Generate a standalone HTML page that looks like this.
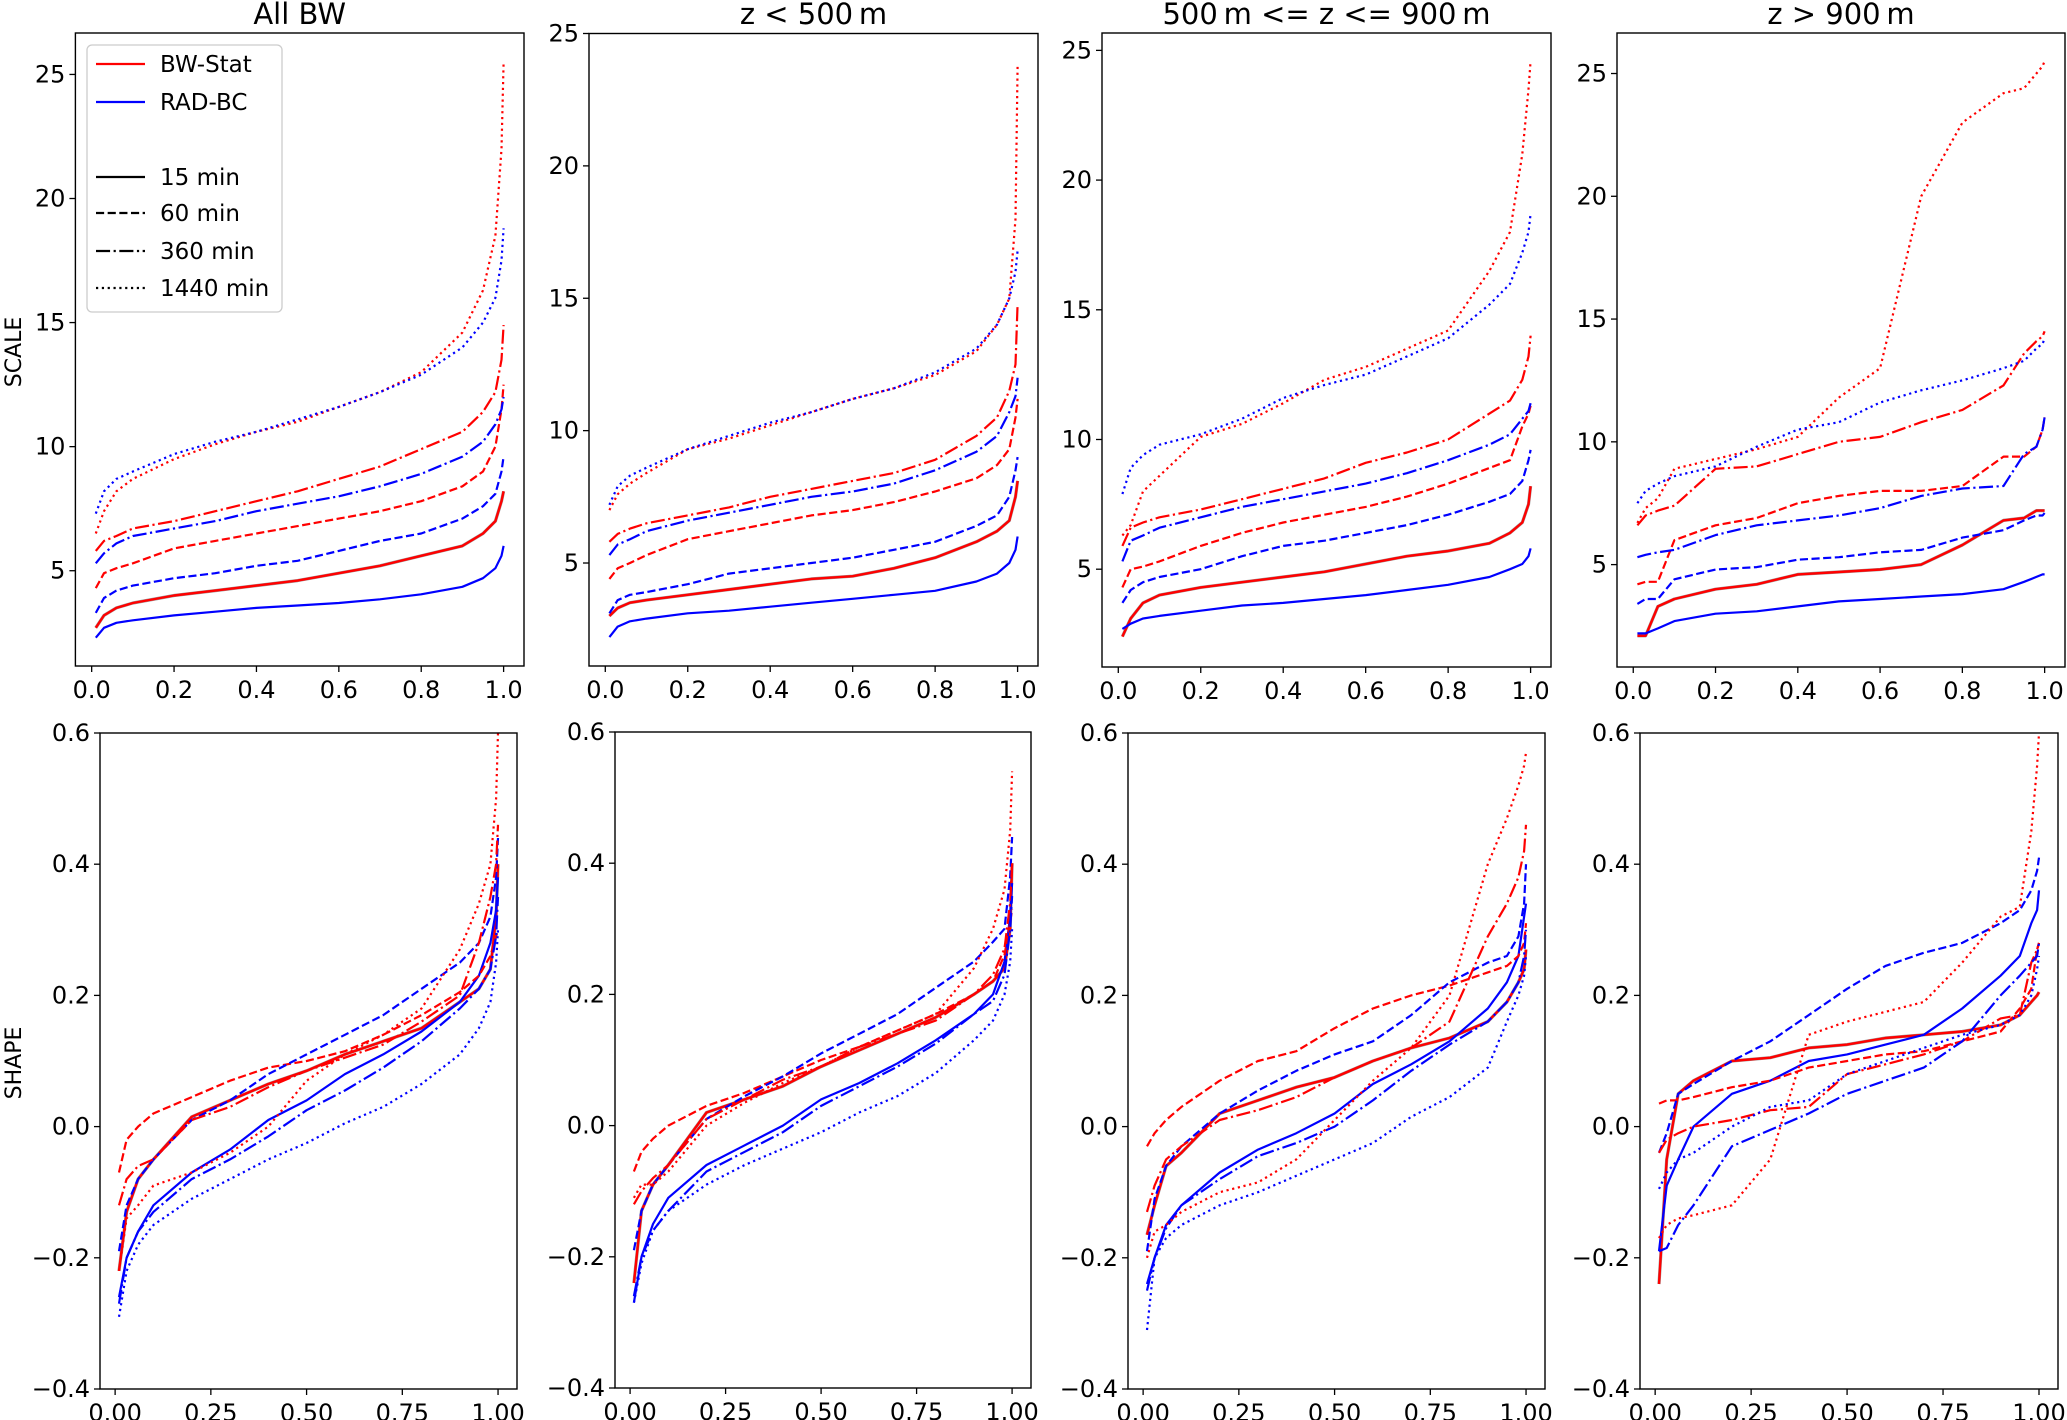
<!DOCTYPE html>
<html><head><meta charset="utf-8">
<style>
html,body{margin:0;padding:0;background:#fff;}
svg{display:block;font-family:"DejaVu Sans","Liberation Sans",sans-serif;}
</style></head>
<body>
<svg id="fig" width="2067" height="1420" viewBox="0 0 2067 1420" xmlns="http://www.w3.org/2000/svg"></svg>
<script>
// ---------- data ----------
const xGrid = [0.01,0.03,0.06,0.1,0.2,0.3,0.4,0.5,0.6,0.7,0.8,0.9,0.95,0.98,0.995,1.0];
const durations = ["15 min","60 min","360 min","1440 min"];
const panelTitles = ["All BW","z < 500\u2009m","500\u2009m <= z <= 900\u2009m","z > 900\u2009m"];
const scaleTicks = [5,10,15,20,25];
const shapeTicks = [-0.4,-0.2,0.0,0.2,0.4,0.6];
const scaleXTicks = [0,0.2,0.4,0.6,0.8,1.0];
const shapeXTicks = [0,0.25,0.5,0.75,1.0];

// SCALE, order: 15, 60, 360, 1440 min
const scaleAllRed = [
 [2.7,3.2,3.5,3.7,4.0,4.2,4.4,4.6,4.9,5.2,5.6,6.0,6.5,7.0,7.8,8.2],
 [4.3,4.9,5.1,5.3,5.9,6.2,6.5,6.8,7.1,7.4,7.8,8.4,9.0,10.0,11.5,12.5],
 [5.8,6.2,6.4,6.7,7.0,7.4,7.8,8.2,8.7,9.2,9.9,10.6,11.4,12.2,13.5,14.9],
 [6.5,7.4,8.2,8.7,9.5,10.1,10.6,11.0,11.6,12.2,13.0,14.6,16.3,18.5,22.0,25.5]];
const scaleAllBlue = [
 [2.3,2.7,2.9,3.0,3.2,3.35,3.5,3.6,3.7,3.85,4.05,4.35,4.7,5.1,5.6,6.0],
 [3.3,3.9,4.2,4.4,4.7,4.9,5.2,5.4,5.8,6.2,6.5,7.1,7.6,8.1,9.0,9.6],
 [5.3,5.7,6.1,6.4,6.7,7.0,7.4,7.7,8.0,8.4,8.9,9.6,10.2,10.9,11.5,12.0],
 [7.3,8.2,8.7,9.0,9.7,10.2,10.6,11.1,11.6,12.2,12.9,14.0,15.0,16.0,17.5,18.8]];
const scaleLowRed = [
 [3.0,3.3,3.5,3.6,3.8,4.0,4.2,4.4,4.5,4.8,5.2,5.8,6.2,6.6,7.5,8.1],
 [4.4,4.8,5.0,5.3,5.9,6.2,6.5,6.8,7.0,7.3,7.7,8.2,8.7,9.3,10.5,11.2],
 [5.8,6.1,6.3,6.5,6.8,7.1,7.5,7.8,8.1,8.4,8.9,9.8,10.5,11.5,12.5,14.8],
 [7.0,7.6,8.0,8.4,9.3,9.7,10.2,10.7,11.2,11.6,12.1,13.0,14.0,15.0,18.0,23.8]];
const scaleLowBlue = [
 [2.2,2.6,2.8,2.9,3.1,3.2,3.35,3.5,3.65,3.8,3.95,4.3,4.6,5.0,5.5,6.0],
 [3.1,3.6,3.8,3.9,4.2,4.6,4.8,5.0,5.2,5.5,5.8,6.4,6.8,7.5,8.5,9.0],
 [5.3,5.7,5.9,6.2,6.6,6.9,7.2,7.5,7.7,8.0,8.5,9.2,9.8,10.7,11.3,12.0],
 [7.2,7.9,8.3,8.6,9.3,9.8,10.3,10.7,11.2,11.6,12.2,13.1,14.0,15.0,16.0,16.8]];
const scaleMidRed = [
 [2.4,3.1,3.7,4.0,4.3,4.5,4.7,4.9,5.2,5.5,5.7,6.0,6.4,6.8,7.5,8.2],
 [4.3,5.0,5.1,5.3,5.9,6.4,6.8,7.1,7.4,7.8,8.3,8.9,9.2,10.5,11.0,11.3],
 [5.9,6.6,6.8,7.0,7.3,7.7,8.1,8.5,9.1,9.5,10.0,11.0,11.5,12.3,13.2,14.0],
 [6.3,6.7,8.0,8.6,10.1,10.6,11.4,12.3,12.8,13.5,14.2,16.5,18.0,21.0,23.5,24.6]];
const scaleMidBlue = [
 [2.7,2.9,3.1,3.2,3.4,3.6,3.7,3.85,4.0,4.2,4.4,4.7,5.0,5.2,5.5,5.8],
 [3.7,4.2,4.5,4.7,5.0,5.5,5.9,6.1,6.4,6.7,7.1,7.6,7.9,8.4,9.2,9.6],
 [5.3,6.1,6.3,6.6,7.0,7.4,7.7,8.0,8.3,8.7,9.2,9.8,10.2,10.8,11.1,11.4],
 [7.9,8.9,9.4,9.8,10.2,10.8,11.6,12.1,12.5,13.2,13.9,15.2,16.0,17.2,18.0,18.7]];
const scaleHighRed = [
 [2.1,2.1,3.3,3.6,4.0,4.2,4.6,4.7,4.8,5.0,5.8,6.8,6.9,7.2,7.2,7.2],
 [4.2,4.3,4.3,6.0,6.6,6.9,7.5,7.8,8.0,8.0,8.2,9.4,9.4,9.8,10.5,11.0],
 [6.6,7.0,7.2,7.4,8.9,9.0,9.5,10.0,10.2,10.8,11.3,12.3,13.6,14.1,14.3,14.5],
 [6.7,7.3,7.7,8.9,9.3,9.7,10.2,11.8,13.0,20.0,23.0,24.2,24.4,25.0,25.3,25.5]];
const scaleHighBlue = [
 [2.2,2.2,2.4,2.7,3.0,3.1,3.3,3.5,3.6,3.7,3.8,4.0,4.3,4.5,4.6,4.6],
 [3.4,3.6,3.6,4.4,4.8,4.9,5.2,5.3,5.5,5.6,6.1,6.4,6.8,7.0,7.0,7.1],
 [5.3,5.4,5.5,5.6,6.2,6.6,6.8,7.0,7.3,7.8,8.1,8.2,9.5,9.8,10.5,11.0],
 [7.5,8.0,8.3,8.6,9.0,9.8,10.5,10.8,11.6,12.1,12.5,13.0,13.3,13.8,14.0,14.2]];

// SHAPE
const shapeAllRed = [
 [-0.22,-0.13,-0.08,-0.05,0.015,0.04,0.065,0.085,0.11,0.13,0.15,0.19,0.21,0.24,0.32,0.40],
 [-0.07,-0.02,0.0,0.02,0.045,0.07,0.09,0.10,0.115,0.14,0.17,0.205,0.23,0.26,0.29,0.30],
 [-0.12,-0.08,-0.06,-0.05,0.01,0.03,0.06,0.085,0.105,0.125,0.16,0.20,0.28,0.35,0.40,0.46],
 [-0.22,-0.14,-0.12,-0.09,-0.07,-0.04,0.0,0.07,0.11,0.14,0.18,0.27,0.34,0.40,0.50,0.60]];
const shapeAllBlue = [
 [-0.26,-0.20,-0.16,-0.12,-0.07,-0.035,0.01,0.04,0.08,0.11,0.145,0.19,0.23,0.28,0.33,0.38],
 [-0.19,-0.12,-0.08,-0.05,0.01,0.04,0.08,0.11,0.14,0.17,0.21,0.25,0.28,0.32,0.38,0.44],
 [-0.27,-0.20,-0.16,-0.13,-0.08,-0.05,-0.015,0.025,0.055,0.09,0.13,0.18,0.21,0.24,0.29,0.35],
 [-0.29,-0.22,-0.18,-0.15,-0.11,-0.08,-0.05,-0.025,0.005,0.03,0.065,0.11,0.15,0.19,0.25,0.30]];
const shapeLowRed = [
 [-0.24,-0.13,-0.09,-0.06,0.02,0.04,0.06,0.09,0.115,0.14,0.165,0.20,0.22,0.24,0.30,0.40],
 [-0.07,-0.04,-0.02,0.0,0.03,0.05,0.075,0.10,0.12,0.145,0.17,0.20,0.22,0.26,0.31,0.33],
 [-0.12,-0.10,-0.08,-0.06,0.01,0.04,0.07,0.09,0.12,0.14,0.16,0.20,0.23,0.27,0.34,0.40],
 [-0.11,-0.09,-0.09,-0.07,0.0,0.035,0.065,0.09,0.12,0.145,0.17,0.24,0.30,0.36,0.45,0.54]];
const shapeLowBlue = [
 [-0.27,-0.20,-0.15,-0.11,-0.06,-0.03,0.0,0.04,0.065,0.095,0.13,0.17,0.20,0.25,0.32,0.37],
 [-0.19,-0.13,-0.09,-0.06,0.01,0.045,0.075,0.11,0.14,0.17,0.21,0.25,0.28,0.30,0.38,0.44],
 [-0.26,-0.20,-0.16,-0.13,-0.07,-0.04,-0.01,0.03,0.06,0.09,0.125,0.17,0.19,0.23,0.30,0.35],
 [-0.27,-0.21,-0.16,-0.13,-0.09,-0.06,-0.035,-0.01,0.02,0.045,0.08,0.13,0.16,0.20,0.25,0.30]];
const shapeMidRed = [
 [-0.165,-0.12,-0.06,-0.04,0.02,0.04,0.06,0.075,0.10,0.12,0.135,0.16,0.19,0.22,0.24,0.27],
 [-0.03,-0.01,0.01,0.03,0.07,0.10,0.115,0.15,0.18,0.20,0.215,0.235,0.245,0.26,0.28,0.31],
 [-0.13,-0.09,-0.05,-0.03,0.01,0.025,0.045,0.075,0.10,0.12,0.16,0.29,0.34,0.38,0.42,0.46],
 [-0.20,-0.16,-0.15,-0.13,-0.10,-0.085,-0.05,0.01,0.07,0.12,0.20,0.40,0.47,0.52,0.55,0.57]];
const shapeMidBlue = [
 [-0.24,-0.20,-0.15,-0.12,-0.07,-0.035,-0.01,0.02,0.065,0.095,0.13,0.18,0.22,0.26,0.32,0.34],
 [-0.19,-0.11,-0.06,-0.03,0.02,0.055,0.085,0.11,0.13,0.17,0.22,0.25,0.26,0.29,0.34,0.40],
 [-0.25,-0.20,-0.155,-0.12,-0.08,-0.045,-0.025,0.0,0.04,0.085,0.125,0.16,0.19,0.22,0.26,0.30],
 [-0.31,-0.20,-0.17,-0.15,-0.12,-0.10,-0.075,-0.05,-0.025,0.015,0.045,0.09,0.16,0.20,0.23,0.26]];
const shapeHighRed = [
 [-0.24,-0.05,0.05,0.07,0.10,0.105,0.12,0.125,0.135,0.14,0.145,0.155,0.17,0.19,0.20,0.205],
 [0.035,0.04,0.04,0.045,0.06,0.07,0.09,0.10,0.11,0.115,0.13,0.145,0.18,0.21,0.27,0.28],
 [-0.04,-0.02,-0.01,0.0,0.01,0.025,0.03,0.08,0.095,0.11,0.13,0.165,0.17,0.25,0.27,0.28],
 [-0.17,-0.15,-0.14,-0.135,-0.12,-0.05,0.14,0.16,0.175,0.19,0.25,0.32,0.335,0.45,0.55,0.60]];
const shapeHighBlue = [
 [-0.19,-0.09,-0.05,0.0,0.05,0.07,0.10,0.11,0.125,0.14,0.18,0.23,0.26,0.31,0.33,0.36],
 [-0.04,-0.01,0.05,0.065,0.10,0.13,0.17,0.21,0.245,0.265,0.28,0.31,0.33,0.36,0.39,0.41],
 [-0.19,-0.185,-0.15,-0.12,-0.03,-0.005,0.02,0.05,0.07,0.09,0.13,0.20,0.23,0.25,0.26,0.28],
 [-0.095,-0.07,-0.05,-0.04,0.0,0.03,0.04,0.08,0.10,0.12,0.14,0.155,0.17,0.20,0.24,0.26]];

// ---------- layout ----------
const NS = "http://www.w3.org/2000/svg";
const svg = document.getElementById("fig");
function el(tag, attrs, parent){
  const e = document.createElementNS(NS, tag);
  for (const k in attrs) e.setAttribute(k, attrs[k]);
  (parent||svg).appendChild(e);
  return e;
}
const XMIN=-0.0395, XMAX=1.0495;
const panels = [
 {row:0,col:0,l:75.4,r:524,t:33,b:666,ymin:1.16,ymax:26.67,red:scaleAllRed,blue:scaleAllBlue},
 {row:0,col:1,l:589,r:1038,t:33.5,b:666,ymin:1.11,ymax:25,red:scaleLowRed,blue:scaleLowBlue},
 {row:0,col:2,l:1102,r:1551,t:33,b:667,ymin:1.23,ymax:25.67,red:scaleMidRed,blue:scaleMidBlue},
 {row:0,col:3,l:1617,r:2065,t:33,b:667,ymin:0.83,ymax:26.65,red:scaleHighRed,blue:scaleHighBlue},
 {row:1,col:0,l:100,r:517,t:733,b:1389,ymin:-0.4,ymax:0.6,red:shapeAllRed,blue:shapeAllBlue},
 {row:1,col:1,l:615,r:1031,t:732,b:1388,ymin:-0.4,ymax:0.6,red:shapeLowRed,blue:shapeLowBlue},
 {row:1,col:2,l:1128,r:1545,t:733,b:1389,ymin:-0.4,ymax:0.6,red:shapeMidRed,blue:shapeMidBlue},
 {row:1,col:3,l:1640,r:2058,t:733,b:1389,ymin:-0.4,ymax:0.6,red:shapeHighRed,blue:shapeHighBlue}
];
const LW = 2.2;
const dashes = ["", (3.7*LW)+","+(1.6*LW), (6.4*LW)+","+(1.6*LW)+","+LW+","+(1.6*LW), LW+","+(1.65*LW)];

panels.forEach((p,pi)=>{
  const g = el("g",{});
  
  
  const sx = v => p.l + (v - XMIN)/(XMAX - XMIN)*(p.r - p.l);
  const sy = v => p.b - (v - p.ymin)/(p.ymax - p.ymin)*(p.b - p.t);
  const clip = el("clipPath",{id:"clip"+pi},g);
  el("rect",{x:p.l,y:p.t,width:p.r-p.l,height:p.b-p.t},clip);
  const yt = p.row===0?scaleTicks:shapeTicks;
  yt.forEach(v=>{
    const y=sy(v);
    const tk = el("line",{x1:p.l-6,x2:p.l,y1:y,y2:y,stroke:"#000","stroke-width":1.3},g);
    
    
    const t = el("text",{x:p.l-10,y:y+8,"text-anchor":"end","font-size":24},g);
    t.textContent = p.row===0 ? String(v) : (v<0?"\u2212"+Math.abs(v).toFixed(1):v.toFixed(1));
    
    
  });
  const xt = p.row===0?scaleXTicks:shapeXTicks;
  xt.forEach(v=>{
    const x=sx(v);
    const tk = el("line",{x1:x,x2:x,y1:p.b,y2:p.b+6,stroke:"#000","stroke-width":1.3},g);
    
    
    const t = el("text",{x:x,y:p.b+32,"text-anchor":"middle","font-size":24},g);
    t.textContent = p.row===0 ? v.toFixed(1) : v.toFixed(2);
    
    
  });
  const order = [["red",0],["blue",0],["red",1],["blue",1],["red",2],["blue",2],["red",3],["blue",3]];
  order.forEach(([c,di])=>{
    const vals = (c==="red"?p.red:p.blue)[di];
    const d = vals.map((v,i)=>(i?"L":"M")+sx(xGrid[i]).toFixed(1)+","+sy(v).toFixed(1)).join(" ");
    if (c==="red" && di===0){
      el("path",{d:d,fill:"none",stroke:"#999","stroke-width":3.2,"clip-path":"url(#clip"+pi+")","stroke-linejoin":"round"},g);
    }
    const path = el("path",{d:d,fill:"none",stroke:c==="red"?"#ff0000":"#0000ff","stroke-width":c==="red"&&di===0?2.4:LW,"stroke-dasharray":dashes[di],"clip-path":"url(#clip"+pi+")","stroke-linejoin":"round"},g);
    
    
  });
  const frame = el("rect",{x:p.l,y:p.t,width:p.r-p.l,height:p.b-p.t,fill:"none",stroke:"#000","stroke-width":1.4},g);
  
  
  if (p.row===0){
    const t = el("text",{x:(p.l+p.r)/2,y:24,"text-anchor":"middle","font-size":29},g);
    t.textContent = panelTitles[p.col];
    
    
  }
});

const yl1 = el("text",{x:0,y:0,"font-size":22,"text-anchor":"middle",transform:"translate(21,352) rotate(-90)"});
yl1.textContent = "SCALE";


const yl2 = el("text",{x:0,y:0,"font-size":22,"text-anchor":"middle",transform:"translate(21,1063) rotate(-90)"});
yl2.textContent = "SHAPE";



const lg = el("g",{});


el("rect",{x:87,y:45,width:195,height:267,rx:5,fill:"#fff","fill-opacity":0.85,stroke:"#ccc","stroke-width":1.3},lg);
const legendItems = [
 {label:"BW-Stat",color:"#ff0000",dash:"",y:64},
 {label:"RAD-BC",color:"#0000ff",dash:"",y:102},
 {label:durations[0],color:"#000",dash:dashes[0],y:177},
 {label:durations[1],color:"#000",dash:dashes[1],y:213},
 {label:durations[2],color:"#000",dash:dashes[2],y:251},
 {label:durations[3],color:"#000",dash:dashes[3],y:288}];
legendItems.forEach(it=>{
  const ln = el("line",{x1:96,x2:145,y1:it.y,y2:it.y,stroke:it.color,"stroke-width":LW,"stroke-dasharray":it.dash},lg);
  
  
  const t = el("text",{x:160,y:it.y+8,"font-size":23},lg);
  t.textContent = it.label;
  
  
});
</script>
</body></html>
